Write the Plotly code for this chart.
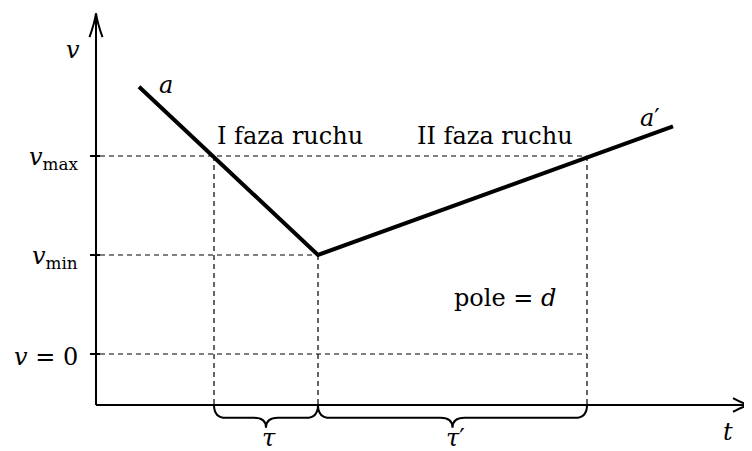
import plotly.graph_objects as go

# wykres v(t): faza I (hamowanie) i faza II (rozpędzanie)
t_line = [0.43, 2.22, 5.77]
v_line = [2.70, 1.00, 2.30]

# poziomy prędkości zaznaczone na osi v
v_levels = [2.0, 1.0, 0.0]
v_labels = ["<i>v</i><sub>max</sub>", "<i>v</i><sub>min</sub>", "<i>v</i> = 0"]

# chwile: v = v_max (faza I), v = v_min, v = v_max (faza II)
t_marks = [1.18, 2.22, 4.91]
brace_labels = ["<i>τ</i>", "<i>τ</i>′"]

v_axis_bottom = -0.515
v_axis_top = 3.44
t_axis_end = 6.53

FONT = "DejaVu Serif"
fig = go.Figure()

fig.add_trace(go.Scatter(x=t_line, y=v_line, mode="lines",
                         line=dict(color="black", width=4), hoverinfo="skip"))

shapes = []
dash = dict(color="black", width=1.2, dash="5px,4px")

# linie przerywane poziome
ends = [t_marks[2], t_marks[1], t_marks[2]]
for v, te in zip(v_levels, ends):
    shapes.append(dict(type="line", x0=0.04, x1=te, y0=v, y1=v, line=dash, layer="below"))
    shapes.append(dict(type="line", x0=-0.06, x1=0.04, y0=v, y1=v,
                       line=dict(color="black", width=2)))

# linie przerywane pionowe
tops = [v_levels[0], v_levels[1], v_levels[0]]
for t, vt in zip(t_marks, tops):
    shapes.append(dict(type="line", x0=t, x1=t, y0=vt, y1=v_axis_bottom, line=dash, layer="below"))

# osie
axis = dict(color="black", width=2)
shapes.append(dict(type="line", x0=0, x1=0, y0=v_axis_bottom, y1=v_axis_top, line=axis))
shapes.append(dict(type="line", x0=0, x1=t_axis_end, y0=v_axis_bottom, y1=v_axis_bottom, line=axis))

# groty strzałek
shapes.append(dict(type="path", line=axis,
                   path=f"M -0.065,{v_axis_top-0.24} Q -0.015,{v_axis_top-0.1} 0,{v_axis_top} "
                        f"Q 0.015,{v_axis_top-0.1} 0.065,{v_axis_top-0.24}"))
yb = v_axis_bottom
shapes.append(dict(type="path", line=axis,
                   path=f"M {t_axis_end-0.16},{yb+0.07} Q {t_axis_end-0.06},{yb+0.015} {t_axis_end},{yb} "
                        f"Q {t_axis_end-0.06},{yb-0.015} {t_axis_end-0.16},{yb-0.07}"))

# klamry pod osią t
y1 = v_axis_bottom - 0.13
tip = v_axis_bottom - 0.23
r = 0.12
for a, b in [(t_marks[0], t_marks[1]), (t_marks[1], t_marks[2])]:
    m = (a + b) / 2
    p = (f"M {a},{yb} Q {a},{y1} {a+r},{y1} L {m-r},{y1} Q {m},{y1} {m},{tip} "
         f"Q {m},{y1} {m+r},{y1} L {b-r},{y1} Q {b},{y1} {b},{yb}")
    shapes.append(dict(type="path", path=p, line=dict(color="black", width=2)))

annotations = []
def txt(x, y, s, size=24, xanchor="center"):
    annotations.append(dict(x=x, y=y, text=s, showarrow=False, xanchor=xanchor,
                            yanchor="middle", font=dict(family=FONT, size=size, color="black")))

for v, lab in zip(v_levels, v_labels):
    txt(-0.16, v - 0.03, lab, xanchor="right")

txt(-0.23, 3.07, "<i>v</i>")
txt(6.32, -0.79, "<i>t</i>")
txt(0.70, 2.72, "<i>a</i>")
txt(5.54, 2.38, "<i>a</i>′")
txt(1.94, 2.20, "I faza ruchu")
txt(3.99, 2.20, "II faza ruchu")
txt(4.09, 0.57, "pole = <i>d</i>")
for (a, b), lab in zip([(t_marks[0], t_marks[1]), (t_marks[1], t_marks[2])], brace_labels):
    txt((a + b) / 2 + 0.03, -0.85, lab)

# strona ma 8 px marginesu, więc wykres jest o 8 px mniejszy
fig.update_layout(
    width=744, height=443,
    margin=dict(l=0, r=0, t=0, b=0),
    font=dict(family=FONT),
    plot_bgcolor="white", paper_bgcolor="white",
    showlegend=False,
    xaxis=dict(range=[-0.88, 6.56], visible=False),
    yaxis=dict(range=[-0.98, 3.495], visible=False),
    shapes=shapes, annotations=annotations,
)

fig.write_html("out.html")
